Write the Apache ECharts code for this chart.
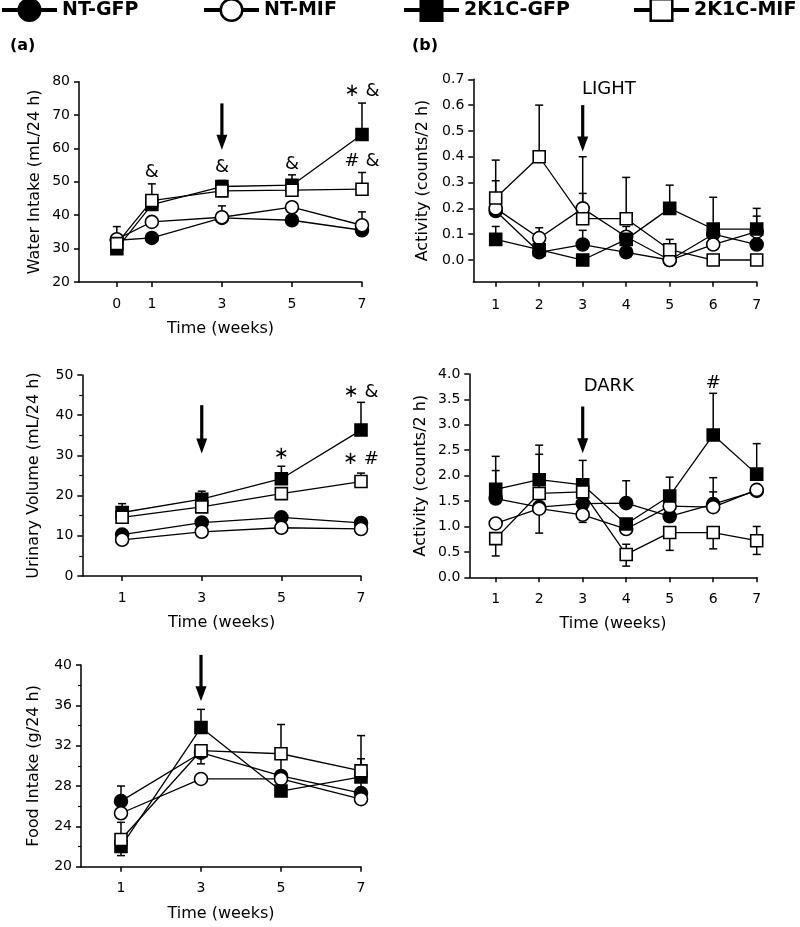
<!DOCTYPE html>
<html><head><meta charset="utf-8">
<script src="https://cdn.jsdelivr.net/npm/echarts@6/dist/echarts.min.js"></script>
<style>html,body{margin:0;padding:0;background:#fff}#c{width:800px;height:927px}</style>
</head><body><div id="c"></div>
<script>
// ---------- DATA ----------
const groups = ['NT-GFP', 'NT-MIF', '2K1C-GFP', '2K1C-MIF'];

// (a) Water intake (mL/24 h)
const waterWeeks = [0, 1, 3, 5, 7];
const waterNTGFP   = [32.5, 33.2, 39.2, 38.5, 35.5];
const waterNTMIF   = [32.8, 38.0, 39.4, 42.4, 37.0];
const water2KGFP   = [30.0, 43.2, 48.6, 49.0, 64.2];
const water2KMIF   = [31.5, 44.4, 47.3, 47.5, 47.8];
const waterHiNTGFP = [null, null, null, null, null];
const waterHiNTMIF = [36.6, null, 42.8, null, 41.0];
const waterHi2KGFP = [null, null, 50.4, 52.1, 73.6];
const waterHi2KMIF = [null, 49.4, null, null, 52.8];
const waterNoteX = [1, 3, 5, 7, 7];
const waterNoteY = [52.8, 54.4, 55.3, 77.0, 56.0];
const waterNoteT = ['&', '&', '&', '∗ &', '# &'];
const waterArrow = [3, 73.5, 59.6];

// (b) Activity, LIGHT (counts/2 h)
const lightWeeks = [1, 2, 3, 4, 5, 6, 7];
const lightNTGFP   = [0.19, 0.03, 0.06, 0.03, 0.0, 0.10, 0.06];
const lightNTMIF   = [0.20, 0.085, 0.20, 0.09, 0.0, 0.06, 0.11];
const light2KGFP   = [0.08, 0.04, 0.0, 0.08, 0.20, 0.12, 0.12];
const light2KMIF   = [0.24, 0.40, 0.16, 0.16, 0.04, 0.0, 0.0];
const lightHiNTGFP = [null, null, 0.115, null, null, null, null];
const lightHiNTMIF = [0.307, 0.125, 0.258, 0.13, null, null, 0.17];
const lightHi2KGFP = [0.13, null, null, null, 0.29, 0.243, 0.20];
const lightHi2KMIF = [0.387, 0.60, 0.40, 0.32, 0.08, null, null];
const lightNoteX = [3.6];
const lightNoteY = [0.66];
const lightNoteT = ['LIGHT'];
const lightArrow = [3, 0.60, 0.42];
const lightTicks = [0, 0.1, 0.2, 0.3, 0.4, 0.5, 0.6, 0.7];

// Urinary volume (mL/24 h)
const urineWeeks = [1, 3, 5, 7];
const urineNTGFP   = [10.3, 13.3, 14.6, 13.2];
const urineNTMIF   = [9.0, 11.0, 12.0, 11.7];
const urine2KGFP   = [15.8, 19.1, 24.2, 36.3];
const urine2KMIF   = [14.6, 17.2, 20.5, 23.5];
const urineHi2KGFP = [18.0, 21.1, 27.3, 43.2];
const urineHi2KMIF = [null, null, null, 25.6];
const urineNoteX = [5, 7, 7];
const urineNoteY = [30.3, 45.7, 28.9];
const urineNoteT = ['∗', '∗ &', '∗ #'];
const urineArrow = [3, 42.5, 30.5];

// Activity, DARK (counts/2 h)
const darkWeeks = [1, 2, 3, 4, 5, 6, 7];
const darkNTGFP   = [1.55, 1.38, 1.45, 1.46, 1.20, 1.44, 1.70];
const darkNTMIF   = [1.06, 1.35, 1.23, 0.95, 1.40, 1.38, 1.72];
const dark2KGFP   = [1.73, 1.92, 1.82, 1.05, 1.60, 2.80, 2.03];
const dark2KMIF   = [0.76, 1.65, 1.68, 0.45, 0.88, 0.88, 0.72];
const darkHiNTGFP = [2.10, 2.42, null, 1.90, null, 1.68, null];
const darkHiNTMIF = [null, null, null, null, null, 1.96, null];
const darkLoNTMIF = [null, 0.87, 1.08, null, null, null, null];
const darkHi2KGFP = [2.38, 2.60, 2.30, null, 1.97, 3.62, 2.63];
const darkHi2KMIF = [null, null, null, 0.65, null, null, 1.00];
const darkLo2KMIF = [0.42, null, null, 0.22, 0.53, 0.56, 0.45];
const darkNoteX = [3.6, 6];
const darkNoteY = [3.75, 3.82];
const darkNoteT = ['DARK', '#'];
const darkArrow = [3, 3.36, 2.44];

// Food intake (g/24 h)
const foodWeeks = [1, 3, 5, 7];
const foodNTGFP   = [26.5, 31.3, 29.0, 27.3];
const foodNTMIF   = [25.3, 28.7, 28.7, 26.7];
const food2KGFP   = [22.0, 33.8, 27.5, 28.9];
const food2KMIF   = [22.7, 31.5, 31.2, 29.5];
const foodHiNTGFP = [28.0, null, 31.2, 30.7];
const foodLoNTGFP = [null, 30.2, null, null];
const foodHi2KGFP = [null, 35.6, null, null];
const foodLo2KGFP = [21.1, null, null, null];
const foodHi2KMIF = [24.4, null, 34.1, 33.0];
const foodArrow = [3, 41.0, 36.4];

// ---------- STYLE / BUILD ----------
const FONT = 'DejaVu Sans';
const symbols = ['circle', 'circle', 'rect', 'rect'];
const fills = ['#000', '#fff', '#000', '#fff'];
const symSizes = [13, 13, 12, 12];

const panels = [
  { weeks: waterWeeks, vals: [waterNTGFP, waterNTMIF, water2KGFP, water2KMIF],
    hi: [waterHiNTGFP, waterHiNTMIF, waterHi2KGFP, waterHi2KMIF], lo: [],
    notes: [waterNoteX, waterNoteY, waterNoteT], arrow: waterArrow },
  { weeks: lightWeeks, vals: [lightNTGFP, lightNTMIF, light2KGFP, light2KMIF],
    hi: [lightHiNTGFP, lightHiNTMIF, lightHi2KGFP, lightHi2KMIF], lo: [],
    notes: [lightNoteX, lightNoteY, lightNoteT], arrow: lightArrow },
  { weeks: urineWeeks, vals: [urineNTGFP, urineNTMIF, urine2KGFP, urine2KMIF],
    hi: [null, null, urineHi2KGFP, urineHi2KMIF], lo: [],
    notes: [urineNoteX, urineNoteY, urineNoteT], arrow: urineArrow },
  { weeks: darkWeeks, vals: [darkNTGFP, darkNTMIF, dark2KGFP, dark2KMIF],
    hi: [darkHiNTGFP, darkHiNTMIF, darkHi2KGFP, darkHi2KMIF], lo: [null, darkLoNTMIF, null, darkLo2KMIF],
    notes: [darkNoteX, darkNoteY, darkNoteT], arrow: darkArrow },
  { weeks: foodWeeks, vals: [foodNTGFP, foodNTMIF, food2KGFP, food2KMIF],
    hi: [foodHiNTGFP, null, foodHi2KGFP, foodHi2KMIF], lo: [foodLoNTGFP, null, foodLo2KGFP, null],
    notes: [[], [], []], arrow: foodArrow }
];

const grids = [
  { left: 79, top: 81.7, width: 283, height: 200.3 },
  { left: 473.3, top: 79.3, width: 283.4, height: 202.4 },
  { left: 82.3, top: 375, width: 278.7, height: 201 },
  { left: 469.3, top: 374, width: 287.4, height: 203.3 },
  { left: 81, top: 665, width: 280, height: 201.7 }
].map(g => Object.assign({ outerBoundsMode: 'none', containLabel: false }, g));

const axisLineStyle = { show: true, onZero: false, lineStyle: { color: '#000', width: 1.5 } };
const labelStyle = { color: '#000', fontFamily: FONT, fontSize: 14 };
const nameStyle = { color: '#000', fontFamily: FONT, fontSize: 16 };

function xAxis(gi, min, max, ticks, showName) {
  return {
    type: 'value', gridIndex: gi, min: min, max: max,
    axisLine: axisLineStyle, splitLine: { show: false },
    axisTick: { show: true, length: 5, lineStyle: { color: '#000', width: 1.5 }, customValues: ticks },
    axisLabel: Object.assign({ margin: 15, customValues: ticks }, labelStyle),
    name: showName ? 'Time (weeks)' : '', nameLocation: 'middle', nameGap: 39, nameTextStyle: nameStyle
  };
}
function yAxis(gi, name, min, max, interval, gap, opts) {
  const a = {
    type: 'value', gridIndex: gi, min: min, max: max, interval: interval,
    axisLine: axisLineStyle, splitLine: { show: false },
    axisTick: { show: true, length: 5, lineStyle: { color: '#000', width: 1.5 } },
    axisLabel: Object.assign({ margin: 9 }, labelStyle),
    name: name, nameLocation: 'middle', nameRotate: 90, nameGap: gap, nameTextStyle: nameStyle
  };
  if (opts) {
    if (opts.minor) a.minorTick = { show: true, splitNumber: 2, length: 3, lineStyle: { color: '#000', width: 1.2 } };
    if (opts.dec) a.axisLabel.formatter = v => Number(v).toFixed(1);
    if (opts.ticks) { a.axisTick.customValues = opts.ticks; a.axisLabel.customValues = opts.ticks; delete a.interval; }
  }
  return a;
}

const xAxes = [
  xAxis(0, -1.08, 7, waterWeeks, true),
  xAxis(1, 0.485, 7, lightWeeks, false),
  xAxis(2, 0, 7, urineWeeks, true),
  xAxis(3, 0.393, 7, darkWeeks, true),
  xAxis(4, 0, 7, foodWeeks, true)
];
xAxes[1].axisLabel.margin = 17;
const yAxes = [
  yAxis(0, 'Water Intake (mL/24 h)', 20, 80, 10, 36),
  yAxis(1, 'Activity (counts/2 h)', -0.084, 0.7, null, 42, { dec: true, ticks: lightTicks }),
  yAxis(2, 'Urinary Volume (mL/24 h)', 0, 50, 10, 40, { minor: true }),
  yAxis(3, 'Activity (counts/2 h)', 0, 4, 0.5, 40, { dec: true }),
  yAxis(4, 'Food Intake (g/24 h)', 20, 40, 4, 39, { minor: true })
];

function renderErr(params, api) {
  const x = api.value(0), v = api.value(1), e = api.value(2);
  const p0 = api.coord([x, v]), p1 = api.coord([x, e]);
  const cap = 4;
  const st = { stroke: '#000', lineWidth: 1.5 };
  return { type: 'group', children: [
    { type: 'line', shape: { x1: p0[0], y1: p0[1], x2: p1[0], y2: p1[1] }, style: st },
    { type: 'line', shape: { x1: p1[0] - cap, y1: p1[1], x2: p1[0] + cap, y2: p1[1] }, style: st }
  ]};
}
function renderArrow(params, api) {
  const x = api.value(0);
  const p0 = api.coord([x, api.value(1)]), p1 = api.coord([x, api.value(2)]);
  const hh = 15, hw = 5.5;
  return { type: 'group', children: [
    { type: 'line', shape: { x1: p0[0], y1: p0[1], x2: p1[0], y2: p1[1] - hh + 1 }, style: { stroke: '#000', lineWidth: 3.2 } },
    { type: 'polygon', shape: { points: [[p1[0] - hw, p1[1] - hh], [p1[0] + hw, p1[1] - hh], [p1[0], p1[1]]] }, style: { fill: '#000' } }
  ]};
}

const series = [];
panels.forEach((p, gi) => {
  const errData = [];
  p.vals.forEach((vals, k) => {
    [p.hi[k], p.lo[k]].forEach(arr => {
      if (!arr) return;
      arr.forEach((e, i) => { if (e !== null && e !== undefined) errData.push([p.weeks[i], vals[i], e]); });
    });
  });
  series.push({ type: 'custom', xAxisIndex: gi, yAxisIndex: gi, z: 1, silent: true, clip: false,
    renderItem: renderErr, encode: { x: 0, y: 1 }, data: errData });
  p.vals.forEach((vals, k) => {
    series.push({
      type: 'line', name: groups[k], xAxisIndex: gi, yAxisIndex: gi, z: 2 + k,
      data: p.weeks.map((w, i) => [w, vals[i]]),
      symbol: symbols[k], symbolSize: symSizes[k], showAllSymbol: true,
      lineStyle: { color: '#000', width: 1.3 },
      itemStyle: { color: fills[k], borderColor: '#000', borderWidth: 1.6 },
      emphasis: { disabled: true }, animation: false
    });
  });
  series.push({ type: 'custom', xAxisIndex: gi, yAxisIndex: gi, z: 10, silent: true, clip: false,
    renderItem: renderArrow, encode: { x: 0, y: 1 }, data: [p.arrow] });
  const [nx, ny, nt] = p.notes;
  if (nx.length) {
    series.push({ type: 'custom', xAxisIndex: gi, yAxisIndex: gi, z: 10, silent: true, clip: false,
      encode: { x: 0, y: 1 },
      data: nx.map((x, i) => [x, ny[i]]),
      renderItem: (params, api) => {
        const c = api.coord([api.value(0), api.value(1)]);
        return { type: 'text', x: c[0], y: c[1], style: { text: nt[params.dataIndex], fill: '#000',
          font: '18px "' + FONT + '"', align: 'center', verticalAlign: 'middle' } };
      } });
  }
});

const legendLeft = [0, 202, 402, 632];
const legends = groups.map((g, i) => ({
  data: [g], left: legendLeft[i], top: -2, itemWidth: 55, itemHeight: 27, itemGap: 0, padding: 0,
  selectedMode: false,
  textStyle: { fontFamily: FONT, fontWeight: 'bold', fontSize: 19, color: '#000' },
  lineStyle: { width: 4 }, itemStyle: { borderWidth: 2.5 }
}));

const chart = echarts.init(document.getElementById('c'), null, { renderer: 'canvas' });
chart.setOption({
  animation: false,
  backgroundColor: '#fff',
  title: [
    { text: '(a)', left: 10, top: 38, padding: 0, textStyle: { fontFamily: FONT, fontWeight: 'bold', fontSize: 16, color: '#000' } },
    { text: '(b)', left: 412, top: 38, padding: 0, textStyle: { fontFamily: FONT, fontWeight: 'bold', fontSize: 16, color: '#000' } }
  ],
  legend: legends,
  grid: grids,
  xAxis: xAxes,
  yAxis: yAxes,
  series: series
});
</script></body></html>
